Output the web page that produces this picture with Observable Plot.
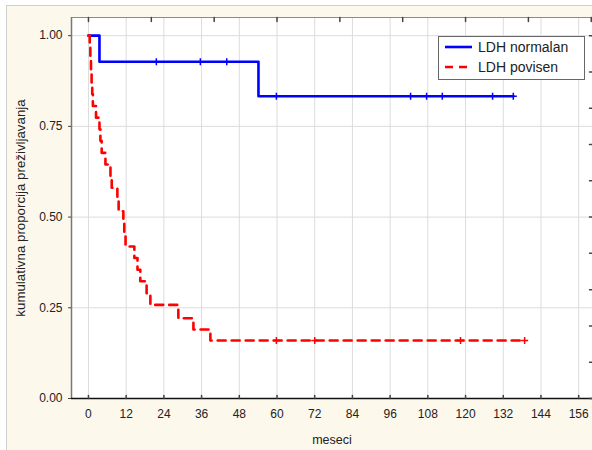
<!DOCTYPE html>
<html><head><meta charset="utf-8">
<script src="https://cdn.jsdelivr.net/npm/d3@7"></script>
<script src="https://cdn.jsdelivr.net/npm/@observablehq/plot@0.6"></script>
<style>
html,body{margin:0;padding:0;background:#fff;}
#wrap{position:relative;margin:5px 0 0 6px;width:586px;height:445px;background:#fdf8ec;border-left:1px solid #d0d0d0;border-top:1px solid #d0d0d0;box-sizing:border-box;overflow:hidden;font-family:"Liberation Sans",Arial,sans-serif;}
#legend{position:absolute;left:431px;top:30px;width:147px;height:44px;background:#fff;border:1px solid #666;box-sizing:border-box;}
#legend svg{display:block;}
</style>
</head><body>
<div id="wrap"><div id="chart"></div><div id="legend"></div></div>
<script>
// ---- data ----
const seriesNames = ["LDH normalan", "LDH povisen"];
const seriesColors = ["#0000ff", "#ff0000"];

const blueTimes = [0, 3.5, 54.1, 135.2];
const blueSurv  = [1, 0.928, 0.833, 0.833];
const blueCensored = [21.6, 35.6, 44, 59.8, 102.5, 107.6, 112.6, 128.6, 135.2];

const redTimes = [0, 0.4, 0.6, 0.8, 1.0, 1.2, 1.4, 2.4, 3.5, 3.8, 4.2, 5.4, 7.0, 7.4, 9.2, 9.6, 11.1, 11.4, 11.8, 14.6, 15.6, 16.5, 18.5, 19.7, 28.6, 33.4, 38.8, 138.8];
const redSurv  = [1, 0.968, 0.935, 0.903, 0.871, 0.839, 0.806, 0.774, 0.742, 0.710, 0.677, 0.645, 0.613, 0.581, 0.548, 0.516, 0.484, 0.452, 0.419, 0.387, 0.355, 0.323, 0.290, 0.258, 0.221, 0.19, 0.16, 0.16];
const redCensored = [59.8, 72, 118.4, 138.8];

const xTicks = [0, 12, 24, 36, 48, 60, 72, 84, 96, 108, 120, 132, 144, 156];
const xTopTicks = [0, 20, 40, 60, 80, 100, 120, 140, 160];
const yTicks = [0, 0.25, 0.5, 0.75, 1.0];
const yRightTicks = [0, 0.1, 0.2, 0.3, 0.4, 0.5, 0.6, 0.7, 0.8, 0.9, 1.0];
const xLabel = "meseci";
const yLabel = "kumulativna proporcija preživljavanja";

// ---- build tables ----
const toRows = (times, surv) => times.map((t, i) => ({t, s: surv[i]}));
const survAt = (times, surv, t) => { let k = 0; for (let i = 0; i < times.length; i++) if (times[i] <= t) k = i; return surv[k]; };
const blueRows = toRows(blueTimes, blueSurv);
const redRows = toRows(redTimes, redSurv);
const blueCens = blueCensored.map(t => ({t, s: survAt(blueTimes, blueSurv, t)}));
const redCens = redCensored.map(t => ({t, s: survAt(redTimes, redSurv, t)}));

const xDomain = [-5.4, 160.4];
const yDomain = [0, 1.05];
const tickShape = {draw(context, l) { context.moveTo(0, 0); context.lineTo(0, -l); }};
const font = '"Liberation Sans", Arial, sans-serif';

const chart = Plot.plot({
  width: 585, height: 444,
  marginLeft: 64, marginRight: 0, marginTop: 11, marginBottom: 52,
  x: {domain: xDomain},
  y: {domain: yDomain},
  style: {fontFamily: font, fontSize: "12px", color: "#222", background: "transparent", overflow: "visible"},
  marks: [
    Plot.frame({fill: "#ffffff", stroke: null}),
    Plot.gridX({ticks: xTicks, stroke: "#dcdcdc", strokeOpacity: 1}),
    Plot.gridY({ticks: yTicks.filter(d => d > 0), stroke: "#dcdcdc", strokeOpacity: 1}),
    Plot.ruleY([yDomain[1]], {stroke: "#8a8a8a", strokeWidth: 1}),
    Plot.ruleX([xDomain[0]], {stroke: "#777", strokeWidth: 1.5}),
    Plot.ruleY([0], {stroke: "#111", strokeWidth: 1.5}),
    Plot.vector(xTicks, {x: d => d, y: 0, length: 3, rotate: 0, anchor: "start", shape: tickShape, stroke: "#444"}),
    Plot.vector(xTopTicks, {x: d => d, y: yDomain[1], length: 4, rotate: 180, anchor: "start", shape: tickShape, stroke: "#444"}),
    Plot.vector(yRightTicks, {x: xDomain[1], y: d => d, length: 3, rotate: -90, anchor: "start", shape: tickShape, stroke: "#444"}),
    Plot.axisY({ticks: yTicks, tickSize: 3, tickPadding: 6, tickFormat: d3.format(".2f"), label: null, fontSize: 12, stroke: "#444"}),
    Plot.axisX({ticks: xTicks, tickSize: 0, tickPadding: 11, tickFormat: d => String(d), label: null, fontSize: 12}),
    Plot.line(blueRows, {x: "t", y: "s", curve: "step-after", stroke: seriesColors[0], strokeWidth: 2.6}),
    Plot.line(redRows, {x: "t", y: "s", curve: "step-after", stroke: seriesColors[1], strokeWidth: 2.6, strokeDasharray: "8,6"}),
    Plot.dot(blueCens, {x: "t", y: "s", symbol: "plus", r: 2.4, stroke: seriesColors[0], strokeWidth: 1.5}),
    Plot.dot(redCens, {x: "t", y: "s", symbol: "plus", r: 2.4, stroke: seriesColors[1], strokeWidth: 1.5}),
    Plot.text([yLabel], {frameAnchor: "left", textAnchor: "middle", lineAnchor: "middle", dx: -51, rotate: -90, fontSize: 13.3, fill: "#222"}),
    Plot.text([xLabel], {frameAnchor: "bottom", textAnchor: "middle", lineAnchor: "middle", dy: 41, fontSize: 12.5, fill: "#222"})
  ]
});
document.getElementById("chart").appendChild(chart);

// ---- legend ----
const lg = d3.select("#legend").append("svg").attr("width", 145).attr("height", 42);
seriesNames.forEach((name, i) => {
  const cy = 10 + i * 20;
  lg.append("line").attr("x1", 6).attr("x2", 33).attr("y1", cy).attr("y2", cy)
    .attr("stroke", seriesColors[i]).attr("stroke-width", 2.6)
    .attr("stroke-dasharray", i === 1 ? "8,6" : null);
  lg.append("text").attr("x", 39).attr("y", cy + 5).text(name)
    .attr("font-family", font).attr("font-size", 14).attr("fill", "#222");
});
</script>
</body></html>
